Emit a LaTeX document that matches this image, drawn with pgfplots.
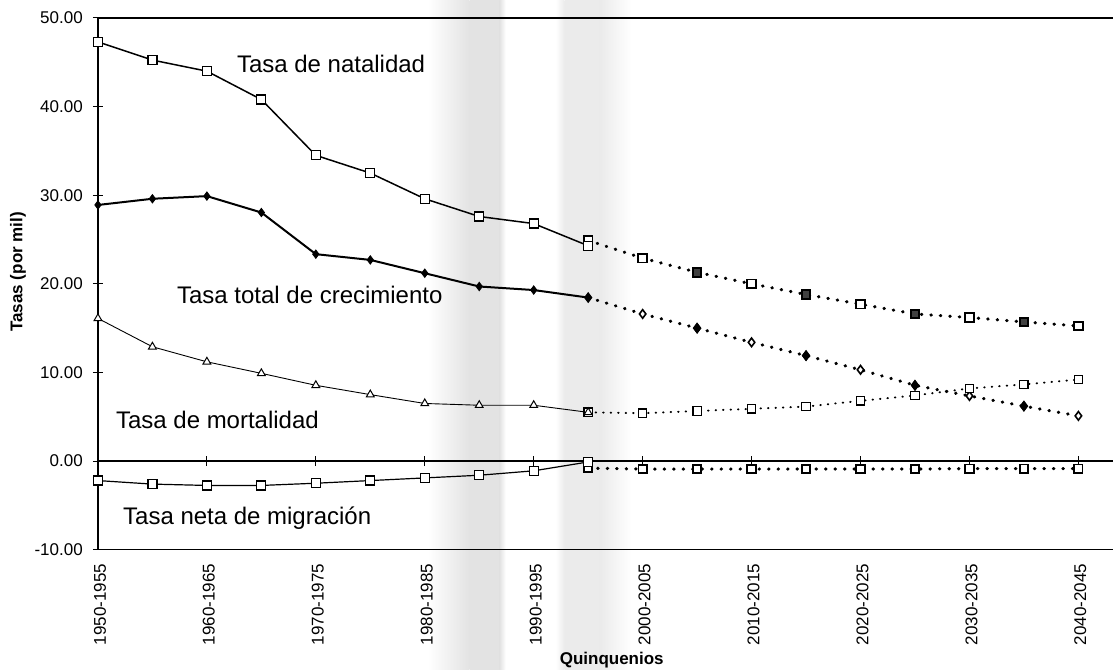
\documentclass[border=0pt]{standalone}
\usepackage{pgfplots}
\pgfplotsset{compat=1.18}
\usepackage{fontspec}
\setmainfont{Liberation Sans}
\pgfplotsset{base/.style={scale only axis, width=1016pt, height=532pt,
  at={(98pt,120pt)}, anchor=south west, ymin=-10, ymax=50, xmin=0, xmax=18.642, clip=false}}
\begin{document}
\begin{tikzpicture}[x=1pt,y=1pt]
\path (0,0) rectangle (1114,670);
% light scan shading bands (book gutter)
\shade[left color=white, right color=black!11] (428,0) rectangle (470,670);
\fill[black!11] (470,0) rectangle (500,670);
\shade[left color=black!11, right color=white] (500,0) rectangle (506,670);
\shade[left color=white, right color=black!8] (556,0) rectangle (565,670);
\fill[black!8] (565,0) rectangle (600,670);
\shade[left color=black!8, right color=white] (600,0) rectangle (632,670);

% zero line with crossing ticks
\begin{axis}[base,
  axis x line=middle, axis y line=none,
  axis line style={-, line width=1.3pt, black},
  xtick={0,2,...,18}, xticklabels={}, ytick=\empty,
  tick align=center, major tick length=10pt,
  xtick style={line width=1pt, black}]
\end{axis}

% frame, labels and all series
\begin{axis}[base,
  axis x line=bottom, axis y line=left,
  axis line style={-, line width=1.2pt, black},
  xtick={0,2,...,18},
  xticklabels={1950-1955,1960-1965,1970-1975,1980-1985,1990-1995,2000-2005,2010-2015,2020-2025,2030-2035,2040-2045},
  xtick style={draw=none},
  ytick={-10,0,...,50},
  tick align=center, major tick length=10pt,
  ytick style={line width=1pt, black},
  tick label style={font=\fontsize{17}{20}\selectfont},
  xticklabel style={yshift=-9pt, xshift=2pt, rotate=90, anchor=east, inner sep=0pt},
  yticklabel style={xshift=-10pt, anchor=east, inner sep=0pt,
    /pgf/number format/fixed, /pgf/number format/fixed zerofill,
    /pgf/number format/precision=2, /pgf/number format/assume math mode=true},
  xlabel={Quinquenios},
  xlabel style={font=\bfseries\fontsize{17}{20}\selectfont, inner sep=0pt, at={(axis description cs:0.506,-0.2068)}, anchor=center},
  ylabel={Tasas (por mil)},
  ylabel style={font=\bfseries\fontsize{17}{20}\selectfont, inner sep=0pt, at={(axis description cs:-0.0787,0.5226)}, anchor=center}]

% top frame line of the plot area
\draw[black, line width=1.2pt] (rel axis cs:0,1) -- (rel axis cs:1,1);

% ---- projections (dotted), 1995-2000 to 2040-2045
% natalidad
\addplot[black, line width=3.2pt, line cap=round, dash pattern=on 0.5pt off 9pt,
  mark=square*, mark options={solid, fill=white, line width=1.8pt, mark size=4.3pt}]
  coordinates {(9,24.9)(10,22.9)(11,21.3)(12,20.0)(13,18.8)(14,17.7)(15,16.6)(16,16.2)(17,15.7)(18,15.25)};
\addplot[only marks, black, mark=square*, mark options={fill=black!75, line width=1.8pt, mark size=4.1pt}]
  coordinates {(11,21.3)(13,18.8)(15,16.6)(17,15.7)};
% crecimiento
\addplot[black, line width=3.2pt, line cap=round, dash pattern=on 0.5pt off 9pt,
  mark=diamond*, mark options={solid, fill=white, line width=1.6pt, mark size=4.3pt}]
  coordinates {(9,18.45)(10,16.6)(11,15.0)(12,13.4)(13,11.9)(14,10.3)(15,8.55)(16,7.35)(17,6.2)(18,5.1)};
\addplot[only marks, black, mark=diamond*, mark options={fill=black, line width=1.6pt, mark size=4.3pt}]
  coordinates {(11,15.0)(13,11.9)(15,8.55)(17,6.2)};
% mortalidad
\addplot[black, line width=2pt, line cap=round, dash pattern=on 0.5pt off 7pt,
  mark=square*, mark options={solid, fill=white, line width=1.3pt, mark size=4.2pt}]
  coordinates {(9,5.5)(10,5.4)(11,5.65)(12,5.9)(13,6.15)(14,6.8)(15,7.4)(16,8.2)(17,8.65)(18,9.2)};
% migracion
\addplot[black, line width=3.2pt, line cap=round, dash pattern=on 0.5pt off 9pt,
  mark=square*, mark options={solid, fill=white, line width=1.8pt, mark size=4.2pt}]
  coordinates {(9,-0.8)(10,-0.9)(11,-0.9)(12,-0.9)(13,-0.9)(14,-0.9)(15,-0.9)(16,-0.85)(17,-0.85)(18,-0.85)};

% ---- historical series (solid), 1950-1955 to 1995-2000
% Tasa de natalidad
\addplot[black, line width=1.5pt, mark=square*, mark size=4.5pt,
  mark options={fill=white, line width=1.2pt}]
  coordinates {(0,47.3)(1,45.25)(2,44.0)(3,40.8)(4,34.5)(5,32.5)(6,29.6)(7,27.6)(8,26.8)(9,24.3)};
% Tasa total de crecimiento
\addplot[black, line width=2pt, mark=diamond*, mark size=4.2pt,
  mark options={fill=black, line width=0.8pt}]
  coordinates {(0,28.9)(1,29.6)(2,29.9)(3,28.05)(4,23.35)(5,22.7)(6,21.2)(7,19.7)(8,19.3)(9,18.45)};
% Tasa de mortalidad
\addplot[black, line width=0.9pt, mark=triangle*, mark size=4.5pt,
  mark options={fill=white, line width=1pt}]
  coordinates {(0,16.1)(1,12.9)(2,11.2)(3,9.9)(4,8.55)(5,7.5)(6,6.5)(7,6.3)(8,6.3)(9,5.5)};
% Tasa neta de migracion
\addplot[black, line width=1.2pt, mark=square*, mark size=4.5pt,
  mark options={fill=white, line width=1.2pt}]
  coordinates {(0,-2.2)(1,-2.6)(2,-2.75)(3,-2.75)(4,-2.5)(5,-2.2)(6,-1.9)(7,-1.6)(8,-1.1)(9,-0.1)};

\node[anchor=base west, inner sep=0pt, font=\fontsize{24}{28}\selectfont] at (axis cs:2.55,43.80) {Tasa de natalidad};
\node[anchor=base west, inner sep=0pt, font=\fontsize{24}{28}\selectfont] at (axis cs:1.45,17.74) {Tasa total de crecimiento};
\node[anchor=base west, inner sep=0pt, font=\fontsize{24}{28}\selectfont] at (axis cs:0.33,3.65) {Tasa de mortalidad};
\node[anchor=base west, inner sep=0pt, font=\fontsize{24}{28}\selectfont] at (axis cs:0.46,-7.18) {Tasa neta de migración};
\end{axis}
\end{tikzpicture}
\end{document}
